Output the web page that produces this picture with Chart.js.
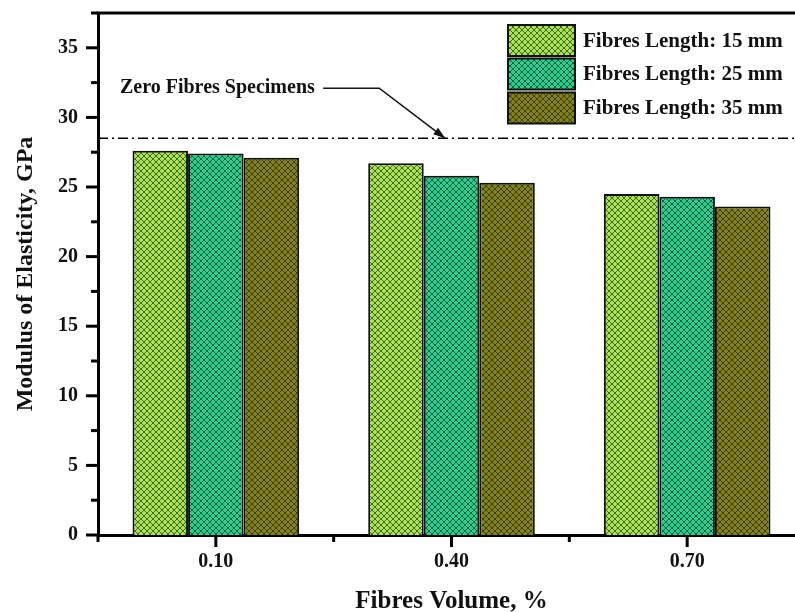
<!DOCTYPE html>
<html>
<head>
<meta charset="utf-8">
<script src="https://cdn.jsdelivr.net/npm/chart.js@4/dist/chart.umd.min.js"></script>
<style>
  html, body { margin: 0; padding: 0; background: #fff; overflow: hidden; }
  #wrap { width: 795px; height: 612px; overflow: hidden; position: relative; }
  canvas { display: block; }
</style>
</head>
<body>
<div id="wrap"><canvas id="chart" width="807" height="612"></canvas></div>
<script>
// Fibre volume fractions (%) on the x axis
const categories = [0.10, 0.40, 0.70];
const xTickLabels = ['0.10', '0.40', '0.70'];
const xMinorTicks = [-0.05, 0.25, 0.55, 0.85];

// Modulus of elasticity (GPa) per fibre length
const seriesLabels = ['Fibres Length: 15 mm', 'Fibres Length: 25 mm', 'Fibres Length: 35 mm'];
const len15 = [27.6, 26.7, 24.5];
const len25 = [27.4, 25.8, 24.3];
const len35 = [27.1, 25.3, 23.6];

// Reference level of plain specimens (no fibres)
const zeroFibres = 28.5;
const zeroFibresLabel = 'Zero Fibres Specimens';

// y axis ticks
const yMajorTicks = [0, 5, 10, 15, 20, 25, 30, 35];
const yMinorTicks = [2.5, 7.5, 12.5, 17.5, 22.5, 27.5, 32.5, 37.5];

const SERIF = "'Liberation Serif', 'Times New Roman', serif";

function hatch(color) {
  const c = document.createElement('canvas');
  c.width = 6; c.height = 6;
  const g = c.getContext('2d');
  g.fillStyle = color;
  g.fillRect(0, 0, 6, 6);
  g.strokeStyle = 'rgba(10,20,0,0.62)';
  g.lineWidth = 1;
  g.beginPath();
  g.moveTo(-1, -1); g.lineTo(7, 7);
  g.moveTo(7, -1); g.lineTo(-1, 7);
  g.stroke();
  return g.createPattern(c, 'repeat');
}

const fills = [hatch('#a8e650'), hatch('#1fd392'), hatch('#868410')];
const series = [len15, len25, len35];

const datasets = series.map((vals, s) => ({
  label: seriesLabels[s],
  data: categories.map((x, i) => ({ x: x, y: vals[i] })),
  backgroundColor: fills[s],
  borderColor: '#111',
  borderWidth: 2,
  borderSkipped: 'bottom',
  barPercentage: 1.0,
  categoryPercentage: 0.707
}));

const decorations = {
  id: 'decorations',
  afterDatasetsDraw(chart) {
    const ctx = chart.ctx;
    const xs = chart.scales.x, ys = chart.scales.y;
    const area = chart.chartArea;
    ctx.save();

    // top frame line
    ctx.strokeStyle = '#000';
    ctx.lineWidth = 3;
    ctx.beginPath();
    ctx.moveTo(area.left - 1.5, area.top);
    ctx.lineTo(area.right, area.top);
    ctx.stroke();

    // y ticks (outward)
    ctx.lineWidth = 3;
    const yTick = (v, len) => {
      const p = ys.getPixelForValue(v);
      ctx.beginPath();
      ctx.moveTo(area.left, p);
      ctx.lineTo(area.left - len, p);
      ctx.stroke();
    };
    yMajorTicks.forEach(v => yTick(v, 12));
    yMinorTicks.forEach(v => yTick(v, 7));

    // x ticks (outward)
    const xTick = (v, len) => {
      const p = xs.getPixelForValue(v);
      ctx.beginPath();
      ctx.moveTo(p, area.bottom);
      ctx.lineTo(p, area.bottom + len);
      ctx.stroke();
    };
    categories.forEach(v => xTick(v, 12));
    xMinorTicks.forEach(v => xTick(v, 7));

    // reference level, dash-dot
    const yRef = ys.getPixelForValue(zeroFibres);
    ctx.lineWidth = 1.5;
    ctx.setLineDash([10, 4, 2, 4]);
    ctx.beginPath();
    ctx.moveTo(area.left, yRef);
    ctx.lineTo(area.right, yRef);
    ctx.stroke();
    ctx.setLineDash([]);

    // annotation label with pointer
    const yLab = ys.getPixelForValue(32.1);
    const xLab = xs.getPixelForValue(-0.022);
    ctx.font = 'bold 20px ' + SERIF;
    ctx.fillStyle = '#111';
    ctx.textAlign = 'left';
    ctx.textBaseline = 'middle';
    ctx.fillText(zeroFibresLabel, xLab, yLab);
    const xStart = xs.getPixelForValue(0.2366);
    const xElbow = xs.getPixelForValue(0.308);
    const xTip = xs.getPixelForValue(0.392);
    ctx.lineWidth = 1.5;
    ctx.strokeStyle = '#111';
    ctx.beginPath();
    ctx.moveTo(xStart, yLab);
    ctx.lineTo(xElbow, yLab);
    ctx.lineTo(xTip, yRef);
    ctx.stroke();
    const ang = Math.atan2(yRef - yLab, xTip - xElbow);
    const aL = 12, aW = 4;
    ctx.beginPath();
    ctx.moveTo(xTip, yRef);
    ctx.lineTo(xTip - aL * Math.cos(ang) + aW * Math.sin(ang), yRef - aL * Math.sin(ang) - aW * Math.cos(ang));
    ctx.lineTo(xTip - aL * Math.cos(ang) - aW * Math.sin(ang), yRef - aL * Math.sin(ang) + aW * Math.cos(ang));
    ctx.closePath();
    ctx.fillStyle = '#111';
    ctx.fill();

    // legend
    const boxX = 508, boxW = 67, boxH = 31;
    const rowY = [25, 58.5, 92.5];
    chart.data.datasets.forEach((ds, i) => {
      ctx.fillStyle = ds.backgroundColor;
      ctx.fillRect(boxX, rowY[i], boxW, boxH);
      ctx.lineWidth = 2;
      ctx.strokeStyle = '#111';
      ctx.strokeRect(boxX, rowY[i], boxW, boxH);
      ctx.fillStyle = '#111';
      ctx.font = 'bold 21px ' + SERIF;
      ctx.textBaseline = 'middle';
      ctx.fillText(ds.label, 583, rowY[i] + boxH / 2 + 1);
    });

    ctx.restore();
  }
};

new Chart(document.getElementById('chart'), {
  type: 'bar',
  data: { datasets: datasets },
  options: {
    responsive: false,
    animation: false,
    devicePixelRatio: 1,
    layout: { padding: { top: 13, right: 2, left: 0, bottom: 0 } },
    plugins: { legend: { display: false }, tooltip: { enabled: false } },
    scales: {
      x: {
        type: 'linear',
        offset: false,
        min: -0.05,
        max: 0.85,
        afterBuildTicks: axis => { axis.ticks = categories.map(v => ({ value: v })); },
        afterFit: axis => { axis.height = 77; axis.paddingLeft = 0; axis.paddingRight = 0; },
        grid: { display: false, offset: false },
        border: { display: true, width: 3, color: '#000' },
        ticks: {
          callback: (v, i) => xTickLabels[i],
          color: '#111',
          padding: 7,
          maxRotation: 0,
          autoSkip: false,
          font: { family: SERIF, size: 20, weight: 'bold' }
        },
        title: {
          display: true,
          text: 'Fibres Volume, %',
          color: '#111',
          padding: { top: 0, bottom: 0 },
          font: { family: SERIF, size: 25, weight: 'bold', lineHeight: 0.85 }
        }
      },
      y: {
        min: 0,
        max: 37.5,
        afterBuildTicks: axis => { axis.ticks = yMajorTicks.map(v => ({ value: v })); },
        afterFit: axis => { axis.width = 98; axis.paddingTop = 0; axis.paddingBottom = 0; },
        grid: { display: false },
        border: { display: true, width: 3, color: '#000' },
        ticks: {
          color: '#111',
          padding: 12,
          font: { family: SERIF, size: 20, weight: 'bold' }
        },
        title: {
          display: true,
          text: 'Modulus of Elasticity, GPa',
          color: '#111',
          padding: { top: 14, bottom: 0 },
          font: { family: SERIF, size: 24, weight: 'bold', lineHeight: 1 }
        }
      }
    }
  },
  plugins: [decorations]
});
</script>
</body>
</html>
